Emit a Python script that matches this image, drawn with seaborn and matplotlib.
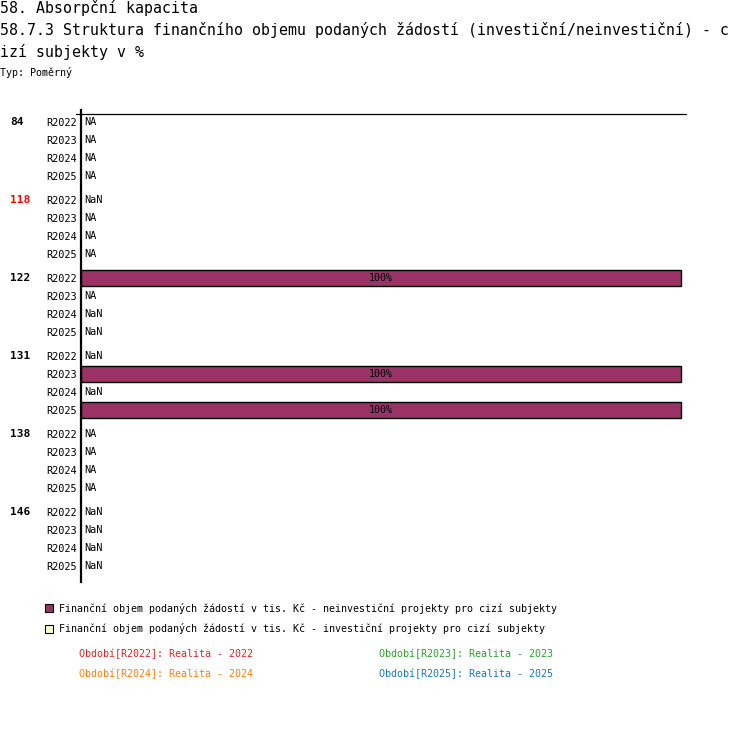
import numpy as np
import pandas as pd
import seaborn as sns
import matplotlib.pyplot as plt
from matplotlib.patches import Rectangle

# data
groups = ['84', '118', '122', '131', '138', '146']
group_colors = ['black', 'red', 'black', 'black', 'black', 'black']
periods = ['R2022', 'R2023', 'R2024', 'R2025']
period_names = ['Realita - 2022', 'Realita - 2023', 'Realita - 2024', 'Realita - 2025']
period_colors = ['#d62728', '#2ca02c', '#ff7f0e', '#1f77b4']

# neinvestiční share in % (nan = no value)
neinvest_pct = [
    [np.nan, np.nan, np.nan, np.nan],
    [np.nan, np.nan, np.nan, np.nan],
    [100, np.nan, np.nan, np.nan],
    [np.nan, 100, np.nan, 100],
    [np.nan, np.nan, np.nan, np.nan],
    [np.nan, np.nan, np.nan, np.nan],
]
# text shown for missing values
missing_text = [
    ['NA', 'NA', 'NA', 'NA'],
    ['NaN', 'NA', 'NA', 'NA'],
    ['', 'NA', 'NaN', 'NaN'],
    ['NaN', '', 'NaN', ''],
    ['NA', 'NA', 'NA', 'NA'],
    ['NaN', 'NaN', 'NaN', 'NaN'],
]

legend_labels = [
    'Finanční objem podaných žádostí v tis. Kč - neinvestiční projekty pro cizí subjekty',
    'Finanční objem podaných žádostí v tis. Kč - investiční projekty pro cizí subjekty',
]
legend_colors = ['#993366', '#ffffcc']

W, H = 750, 732
ROW = 18.0
GROUP_STEP = (4 * ROW + 6) / ROW  # rows + small gap, in row units

rows = []
for gi, g in enumerate(groups):
    for pi, p in enumerate(periods):
        rows.append({'group': g, 'period': p, 'pos': gi * GROUP_STEP + pi,
                     'value': neinvest_pct[gi][pi], 'missing': missing_text[gi][pi]})
df = pd.DataFrame(rows)

sns.set_theme(style='white')
plt.rcParams['font.family'] = ['DejaVu Sans Mono', 'DejaVu Sans']
plt.rcParams['text.color'] = 'black'
plt.rcParams['ytick.color'] = 'black'

fig = plt.figure(figsize=(W / 100, H / 100), dpi=100)


def fx(x):
    return x / W


def fy(y):
    return 1 - y / H


ax = fig.add_axes([fx(81), fy(582), fx(686) - fx(81), fy(114) - fy(582)])

sns.barplot(data=df, x='value', y='pos', orient='h', native_scale=True,
            color='#993366', saturation=1, edgecolor='black', linewidth=1,
            width=16 / ROW, errorbar=None, ax=ax)

xmax = 100 * 605 / 600
ax.set_xlim(0, xmax)
ytop = (114 - 122) / ROW
ax.set_ylim((582 - 122) / ROW, ytop)

for bar in ax.patches:
    w = bar.get_width()
    if np.isfinite(w) and w > 0:
        ax.text(bar.get_x() + w / 2, bar.get_y() + bar.get_height() / 2,
                f'{w:.0f}%', ha='center', va='center', fontsize=7.2)

ax.set_yticks(df['pos'], labels=df['period'])
ax.tick_params(axis='y', length=0, pad=3, labelsize=7.4, labelcolor='black')
ax.set_xticks([])
ax.set_xlabel('')
ax.set_ylabel('')

for s in ['right', 'bottom', 'top']:
    ax.spines[s].set_visible(False)
ax.spines['left'].set_linewidth(1.6)
ax.spines['left'].set_color('black')
ax.spines['left'].set_bounds((582 - 122) / ROW, (110 - 122) / ROW)
# top rule, reaching a little left of the axis
ax.plot([-xmax * 5 / 605, xmax], [ytop, ytop], color='black', lw=0.9,
        clip_on=False)

trans = ax.get_yaxis_transform()
for _, r in df.iterrows():
    if r['missing']:
        ax.text(3 / 605, r['pos'], r['missing'], transform=trans, ha='left',
                va='center', fontsize=7.4)

for gi, g in enumerate(groups):
    ax.text((10 - 81) / 605, gi * GROUP_STEP, g, transform=trans, ha='left',
            va='center', fontsize=8, fontweight='bold', color=group_colors[gi])

# titles
fig.text(fx(0), fy(8), '58. Absorpční kapacita', fontsize=10.75, va='center')
fig.text(fx(0), fy(30), '58.7.3 Struktura finančního objemu podaných žádostí '
         '(investiční/neinvestiční) - c', fontsize=10.75, va='center')
fig.text(fx(0), fy(52), 'izí subjekty v %', fontsize=10.75, va='center')
fig.text(fx(0), fy(73), 'Typ: Poměrný', fontsize=7.2, va='center')

# legend
for i, (lab, col) in enumerate(zip(legend_labels, legend_colors)):
    yc = 608 + i * 21
    fig.add_artist(Rectangle((fx(45), fy(yc + 4)), fx(8), 8 / H, facecolor=col,
                             edgecolor='black', linewidth=0.8,
                             transform=fig.transFigure))
    fig.text(fx(59), fy(yc), lab, fontsize=7.2, va='center')

for i, (p, name, col) in enumerate(zip(periods, period_names, period_colors)):
    x = 79 if i % 2 == 0 else 379
    y = 654 if i < 2 else 674
    fig.text(fx(x), fy(y), f'Období[{p}]: {name}', fontsize=7.2, va='center',
             color=col)

fig.savefig('out.png', dpi=100)
